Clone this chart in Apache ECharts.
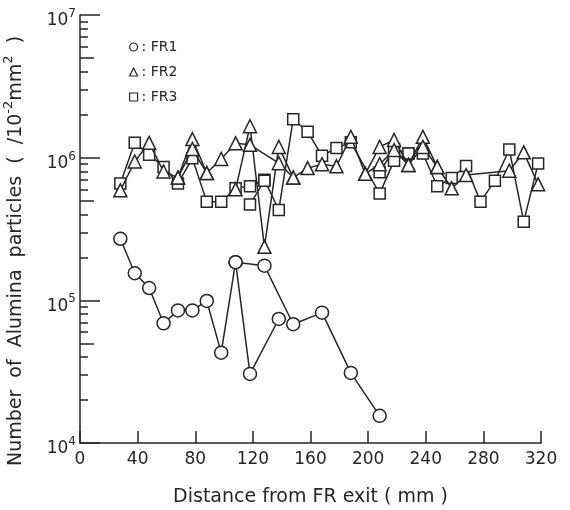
<!DOCTYPE html>
<html>
<head>
<meta charset="utf-8">
<script src="https://cdn.jsdelivr.net/npm/echarts@6/dist/echarts.min.js"></script>
<style>
  html, body { margin: 0; padding: 0; background: #fff; }
  #chart { width: 570px; height: 510px; }
</style>
</head>
<body>
<div id="chart"></div>
<script>
// Distance from the FR exit (mm) and particle counts (per 10^-2 mm^2)
const xFR1 = [28, 38, 48, 58, 68, 78, 88, 98, 108, 128, 148, 168, 188, 208];
const yFR1 = [2.7e5, 1.55e5, 1.22e5, 6.9e4, 8.5e4, 8.5e4, 9.9e4, 4.3e4, 1.85e5, 1.75e5, 6.8e4, 8.2e4, 3.1e4, 1.55e4];
const xFR1b = [108, 118, 138];
const yFR1b = [1.85e5, 3.05e4, 7.4e4];

const xFR2 = [28, 38, 48, 58, 68, 78, 88, 98, 108, 118, 138, 148, 158, 168, 178, 188, 198, 208, 218, 228, 238, 248, 258, 268, 298, 308, 318];
const yFR2 = [5.9e5, 9.4e5, 1.27e6, 8.0e5, 7.25e5, 1.35e6, 7.8e5, 9.8e5, 1.26e6, 1.23e6, 9.15e5, 7.25e5, 8.45e5, 9.0e5, 8.7e5, 1.40e6, 7.7e5, 1.19e6, 1.33e6, 8.9e5, 1.40e6, 8.6e5, 6.1e5, 7.55e5, 8.1e5, 1.09e6, 6.5e5];
const xFR2b = [108, 118, 128, 138, 148];
const yFR2b = [6.0e5, 1.66e6, 2.37e5, 1.19e6, 7.25e5];
const xFR2c = [68, 78, 88];
const yFR2c = [7.25e5, 1.15e6, 7.8e5];
const xFR2d = [198, 208, 218, 228, 238, 248];
const yFR2d = [7.7e5, 9.0e5, 1.13e6, 8.9e5, 1.19e6, 8.6e5];

const xFR3 = [28, 38, 48, 58, 68, 78, 88, 98, 108, 118, 128, 138, 148, 158, 168, 178, 188, 208, 218, 228, 238, 248, 258, 268, 278, 288, 298, 308, 318];
const yFR3 = [6.6e5, 1.27e6, 1.05e6, 8.6e5, 6.6e5, 9.9e5, 4.9e5, 4.9e5, 6.1e5, 6.3e5, 7.0e5, 4.3e5, 1.86e6, 1.52e6, 1.03e6, 1.17e6, 1.28e6, 5.6e5, 9.5e5, 1.07e6, 1.07e6, 6.3e5, 7.2e5, 8.75e5, 4.9e5, 6.9e5, 1.14e6, 3.56e5, 9.1e5];
const xFR3b = [118, 128];
const yFR3b = [4.7e5, 6.9e5];
const xFR3c = [208, 218, 228];
const yFR3c = [7.9e5, 1.15e6, 1.07e6];

// Axis ticks
const xTicks = [0, 40, 80, 120, 160, 200, 240, 280, 320];
const yDecades = [1e4, 1e5, 1e6, 1e7];
const yHalves = [5e4, 5e5, 5e6];
const yMinor = [2e4, 3e4, 4e4, 6e4, 7e4, 8e4, 9e4,
                2e5, 3e5, 4e5, 6e5, 7e5, 8e5, 9e5,
                2e6, 3e6, 4e6, 6e6, 7e6, 8e6, 9e6];

const INK = '#262626';
const FONT = 'DejaVu Sans';

function pairs(xs, ys) { return xs.map((x, i) => [x, ys[i]]); }

function lineSeries(name, symbol, size, xs, ys, z) {
  return {
    name: name,
    type: 'line',
    data: pairs(xs, ys),
    symbol: symbol,
    symbolSize: size,
    z: z,
    lineStyle: { color: INK, width: 1.5 },
    itemStyle: { color: '#fff', borderColor: INK, borderWidth: 1.5 },
    emphasis: { disabled: true },
    animation: false
  };
}

function tickAxis(values, len, extra) {
  return Object.assign({
    type: 'log',
    logBase: 10,
    min: 1e4,
    max: 1e7,
    position: 'left',
    axisLine: { show: false },
    splitLine: { show: false },
    axisLabel: { show: false },
    axisTick: { show: true, inside: true, length: len, customValues: values,
                lineStyle: { color: INK, width: 1.5 } }
  }, extra || {});
}

const chart = echarts.init(document.getElementById('chart'), null, { renderer: 'canvas' });

chart.setOption({
  animation: false,
  textStyle: { fontFamily: FONT, color: INK },
  grid: { left: 80, right: 29, top: 15, bottom: 67, outerBoundsMode: 'none' },
  legend: {
    orient: 'vertical',
    left: 124,
    top: 35,
    itemWidth: 8,
    itemHeight: 8,
    itemGap: 11,
    selectedMode: false,
    formatter: ': {name}',
    textStyle: { fontFamily: FONT, fontSize: 14, color: INK, padding: [0, 0, 0, -1] },
    itemStyle: { color: '#fff', borderColor: INK, borderWidth: 1.2 },
    data: [
      { name: 'FR1', icon: 'circle' },
      { name: 'FR2', icon: 'triangle' },
      { name: 'FR3', icon: 'rect' }
    ]
  },
  xAxis: {
    type: 'value',
    min: 0,
    max: 320,
    interval: 40,
    name: 'Distance from FR exit ( mm )',
    nameLocation: 'middle',
    nameGap: 45,
    nameTextStyle: { fontFamily: FONT, fontSize: 19, color: INK },
    axisLine: { show: true, lineStyle: { color: INK, width: 1.5 } },
    axisTick: { show: true, inside: true, length: 12, customValues: xTicks,
                lineStyle: { color: INK, width: 1.5 } },
    axisLabel: { customValues: xTicks, margin: 8, fontSize: 17, color: INK, fontFamily: FONT },
    splitLine: { show: false }
  },
  yAxis: [
    tickAxis(yDecades, 20, {
      axisLine: { show: true, lineStyle: { color: INK, width: 1.5 } },
      axisLabel: {
        show: true,
        customValues: yDecades,
        margin: 4,
        padding: [12, 0, 0, 0],
        formatter: v => '{b|10}{s|' + Math.round(Math.log10(v)) + '}',
        rich: {
          b: { fontFamily: FONT, fontSize: 17, lineHeight: 26, color: INK },
          s: { fontFamily: FONT, fontSize: 12, lineHeight: 12, verticalAlign: 'top', color: INK }
        }
      },
      name: '{n|Number  of  Alumina  particles  (  /10}{s|-2}{n|mm}{s|2}{n|  )}',
      nameLocation: 'middle',
      nameGap: 50,
      nameTextStyle: {
        padding: [0, 44, 0, 0],
        rich: {
          n: { fontFamily: FONT, fontSize: 19, lineHeight: 28, color: INK },
          s: { fontFamily: FONT, fontSize: 13, lineHeight: 13, verticalAlign: 'top', color: INK }
        }
      }
    }),
    tickAxis(yHalves, 14),
    tickAxis(yMinor, 8)
  ],
  series: [
    lineSeries('FR1', 'circle', 13, xFR1, yFR1, 3),
    lineSeries('FR1', 'circle', 13, xFR1b, yFR1b, 3),
    lineSeries('FR3', 'rect', 11, xFR3, yFR3, 2),
    lineSeries('FR3', 'rect', 11, xFR3b, yFR3b, 2),
    lineSeries('FR3', 'rect', 11, xFR3c, yFR3c, 2),
    lineSeries('FR2', 'triangle', 13, xFR2, yFR2, 4),
    lineSeries('FR2', 'triangle', 13, xFR2b, yFR2b, 4),
    lineSeries('FR2', 'triangle', 13, xFR2c, yFR2c, 4),
    lineSeries('FR2', 'triangle', 13, xFR2d, yFR2d, 4)
  ]
});
</script>
</body>
</html>
